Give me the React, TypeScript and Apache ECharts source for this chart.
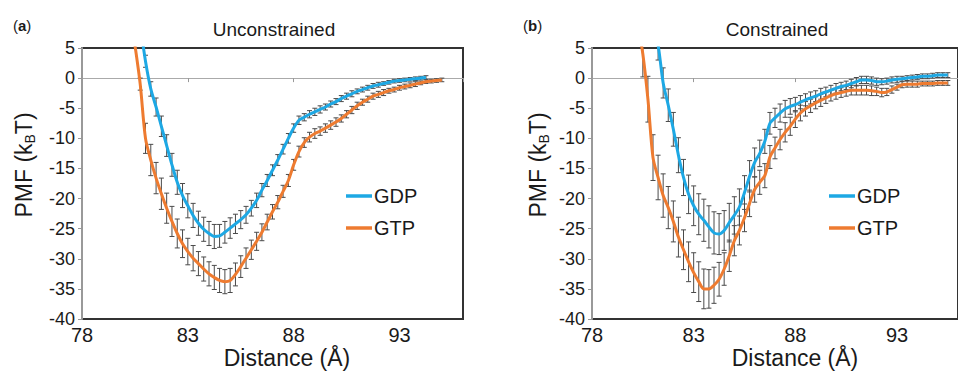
import React, { useEffect, useRef } from 'react';
import * as echarts from 'echarts';

// Distance grid (Å), shared by all series
const DIST = [
  80.25, 80.5, 80.75, 81.0, 81.25, 81.5, 81.75, 82.0, 82.25, 82.5, 82.75, 83.0,
  83.25, 83.5, 83.75, 84.0, 84.25, 84.5, 84.75, 85.0, 85.25, 85.5, 85.75, 86.0,
  86.25, 86.5, 86.75, 87.0, 87.25, 87.5, 87.75, 88.0, 88.25, 88.5, 88.75, 89.0,
  89.25, 89.5, 89.75, 90.0, 90.25, 90.5, 90.75, 91.0, 91.25, 91.5, 91.75, 92.0,
  92.25, 92.5, 92.75, 93.0, 93.25, 93.5, 93.75, 94.0, 94.25, 94.5, 94.75, 95.0,
  95.25, 95.5,
];

// (a) Unconstrained
const A_GDP = [
  null, null, 9.0, 2.8,
  -1.8, -4.8, -8.0, -11.2,
  -14.4, -17.3, -19.5, -21.2,
  -22.8, -24.1, -25.1, -25.8,
  -26.3, -26.2, -25.6, -24.9,
  -24.2, -23.5, -22.7, -21.6,
  -20.3, -18.6, -17.0, -15.3,
  -13.6, -11.8, -10.0, -8.3,
  -7.0, -6.5, -6.0, -5.6,
  -5.2, -4.8, -4.3, -3.9,
  -3.4, -3.0, -2.6, -2.2,
  -1.9, -1.6, -1.3, -1.1,
  -0.9, -0.7, -0.5, -0.4,
  -0.3, -0.2, -0.1, 0.0,
  0.1, null, null, null,
  null, null,
];
const A_GDP_ERR = [
  null, null, 1.0, 1.0,
  1.2, 1.5, 1.7, 1.8,
  1.9, 2.0, 2.0, 2.0,
  2.0, 2.0, 2.0, 2.0,
  2.0, 1.9, 1.8, 1.7,
  1.6, 1.5, 1.4, 1.3,
  1.2, 1.1, 1.0, 0.9,
  0.9, 0.8, 0.8, 0.7,
  0.7, 0.6, 0.6, 0.6,
  0.6, 0.5, 0.5, 0.5,
  0.5, 0.5, 0.5, 0.4,
  0.4, 0.4, 0.4, 0.4,
  0.3, 0.3, 0.3, 0.3,
  0.3, 0.3, 0.3, 0.3,
  0.3, null, null, null,
  null, null,
];
const A_GTP = [
  null, 5.5, -1.0, -10.0,
  -13.6, -16.6, -19.2, -21.6,
  -23.8, -25.8, -27.5, -28.8,
  -29.9, -30.8, -31.7, -32.5,
  -33.1, -33.6, -33.8, -33.6,
  -32.6, -31.3, -29.9, -28.5,
  -27.1, -25.6, -23.9, -22.2,
  -20.6, -18.8, -17.0, -14.4,
  -12.2, -10.7, -9.8, -9.2,
  -8.8, -8.3, -7.8, -7.3,
  -6.7, -6.0, -5.3, -4.6,
  -4.0, -3.5, -3.0, -2.7,
  -2.4, -2.1, -1.9, -1.6,
  -1.4, -1.2, -1.0, -0.8,
  -0.6, -0.5, -0.4, -0.3,
  null, null,
];
const A_GTP_ERR = [
  null, 0, 1.0, 2.5,
  2.6, 2.6, 2.6, 2.5,
  2.5, 2.4, 2.3, 2.2,
  2.1, 2.0, 2.0, 2.0,
  2.0, 2.0, 2.0, 2.0,
  1.9, 1.8, 1.7, 1.6,
  1.5, 1.4, 1.3, 1.2,
  1.1, 1.0, 1.0, 0.9,
  0.9, 0.8, 0.8, 0.8,
  0.7, 0.7, 0.7, 0.7,
  0.6, 0.6, 0.6, 0.6,
  0.5, 0.5, 0.5, 0.5,
  0.5, 0.4, 0.4, 0.4,
  0.4, 0.4, 0.4, 0.3,
  0.3, 0.3, 0.3, 0.3,
  null, null,
];

// (b) Constrained
const B_GDP = [
  null, null, null, 9.0,
  5.5, -0.8, -4.5, -8.5,
  -12.8, -16.5, -19.3, -21.2,
  -22.6, -23.6, -24.7, -25.7,
  -25.9, -25.3, -24.0, -22.8,
  -21.4, -19.0, -16.3, -14.0,
  -12.5, -10.5, -7.5, -6.6,
  -5.8, -5.1, -4.7, -4.4,
  -4.0, -3.6, -3.3, -3.0,
  -2.6, -2.3, -2.0, -1.7,
  -1.4, -1.2, -0.9, -0.6,
  -0.3, -0.3, -0.4, -0.6,
  -0.6, -0.5, -0.3, -0.2,
  -0.1, 0.0, 0.1, 0.2,
  0.3, 0.3, 0.4, 0.5,
  0.5, 0.5,
];
const B_GDP_ERR = [
  null, null, null, 2.5,
  2.5, 2.5, 2.7, 2.8,
  2.9, 3.0, 3.2, 3.3,
  3.4, 3.5, 3.5, 3.5,
  3.4, 3.3, 3.2, 3.1,
  3.0, 2.8, 2.6, 2.4,
  2.2, 2.0, 1.8, 1.6,
  1.5, 1.4, 1.3, 1.2,
  1.1, 1.0, 1.0, 0.9,
  0.9, 0.8, 0.8, 0.8,
  0.7, 0.7, 0.7, 0.7,
  0.6, 0.6, 0.6, 0.6,
  0.5, 0.5, 0.5, 0.5,
  0.4, 0.4, 0.4, 0.4,
  0.4, 0.4, 0.4, 0.4,
  0.4, 0.4,
];
const B_GTP = [
  9.0, 4.0, -3.5, -13.2,
  -16.5, -19.5, -21.5, -23.8,
  -26.4, -28.5, -30.5, -32.3,
  -33.8, -35.0, -35.0, -34.4,
  -33.4, -31.7, -29.5, -27.0,
  -25.3, -23.2, -20.8, -18.5,
  -17.3, -16.2, -13.1, -11.6,
  -10.2, -9.0, -8.0, -6.8,
  -5.8, -5.1, -4.6, -4.1,
  -3.7, -3.3, -2.9, -2.6,
  -2.4, -2.2, -2.0, -2.0,
  -2.0, -2.0, -2.1, -2.2,
  -2.4, -2.3, -1.9, -1.5,
  -1.1, -1.0, -1.0, -1.0,
  -0.9, -0.9, -0.9, -0.8,
  -0.8, -0.8,
];
const B_GTP_ERR = [
  3.5, 3.8, 3.8, 3.8,
  3.7, 3.6, 3.5, 3.4,
  3.3, 3.3, 3.3, 3.3,
  3.3, 3.3, 3.2, 3.0,
  2.8, 2.7, 2.6, 2.5,
  2.4, 2.3, 2.2, 2.1,
  2.0, 2.0, 1.9, 1.8,
  1.7, 1.6, 1.5, 1.4,
  1.3, 1.2, 1.1, 1.0,
  1.0, 0.9, 0.9, 0.9,
  0.8, 0.8, 0.8, 0.8,
  0.8, 0.8, 0.8, 0.7,
  0.7, 0.6, 0.6, 0.5,
  0.5, 0.5, 0.5, 0.5,
  0.4, 0.4, 0.4, 0.4,
  0.4, 0.4,
];

const X_MIN = 78;
const X_MAX = 96;
const X_STEP = 5;
const Y_MIN = -40;
const Y_MAX = 5;
const Y_STEP = 5;
const SERIES_NAMES = ['GDP', 'GTP'];
const PANEL_TITLES = ['Unconstrained', 'Constrained'];
const PANEL_TAGS = ['a', 'b'];

const BLUE = '#1DA8E4';
const ORANGE = '#EE7B30';
const FONT = '"Liberation Sans", Arial, sans-serif';
const TXT = '#1a1a1a';

function linePoints(ys: (number | null)[]) {
  const out: number[][] = [];
  ys.forEach((y, i) => {
    if (y != null) out.push([DIST[i], y]);
  });
  return out;
}
function errPoints(ys: (number | null)[], es: (number | null)[]) {
  const out: number[][] = [];
  ys.forEach((y, i) => {
    const e = es[i];
    if (y != null && e != null && e > 0) out.push([DIST[i], y, e]);
  });
  return out;
}

const errRender = (params: any, api: any) => {
  const x = api.value(0);
  const y = api.value(1);
  const e = api.value(2);
  const hi = api.coord([x, y + e]);
  const lo = api.coord([x, y - e]);
  const c = 2.5;
  const style = { stroke: '#4a4a4a', lineWidth: 1, fill: 'none' };
  return {
    type: 'group',
    children: [
      { type: 'line', shape: { x1: hi[0], y1: hi[1], x2: lo[0], y2: lo[1] }, style },
      { type: 'line', shape: { x1: hi[0] - c, y1: hi[1], x2: hi[0] + c, y2: hi[1] }, style },
      { type: 'line', shape: { x1: lo[0] - c, y1: lo[1], x2: lo[0] + c, y2: lo[1] }, style },
    ],
  };
};

function buildOption() {
  const grids = [
    { left: 82, top: 48, width: 381, height: 271 },
    { left: 592, top: 48, width: 380, height: 271 },
  ].map((g) => ({ ...g, show: true, borderColor: '#333', borderWidth: 2, backgroundColor: 'transparent' }));

  const xAxes: any[] = [];
  const yAxes: any[] = [];
  [0, 1].forEach((gi) => {
    xAxes.push({
      gridIndex: gi,
      type: 'value',
      min: X_MIN,
      max: X_MAX,
      interval: X_STEP,
      position: 'bottom',
      axisLine: { show: false, onZero: false },
      axisTick: { show: false },
      splitLine: { show: false },
      axisLabel: {
        show: true,
        fontSize: 20,
        fontFamily: FONT,
        color: TXT,
        margin: 6,
        showMaxLabel: false,
        formatter: (v: number) => (v === X_MAX ? '' : String(v)),
      },
    });
    xAxes.push({
      gridIndex: gi,
      type: 'value',
      min: X_MIN,
      max: X_MAX,
      interval: X_STEP,
      position: 'top',
      axisLine: { show: true, onZero: true, lineStyle: { color: '#aaa', width: 1 } },
      axisTick: { show: true, inside: true, length: 4, lineStyle: { color: '#999', width: 1 } },
      axisLabel: { show: false },
      splitLine: { show: false },
    });
    yAxes.push({
      gridIndex: gi,
      type: 'value',
      min: Y_MIN,
      max: Y_MAX,
      interval: Y_STEP,
      axisLine: { show: true, onZero: false, lineStyle: { color: '#999', width: 2 } },
      axisTick: { show: true, length: 4, lineStyle: { color: '#999', width: 1 } },
      splitLine: { show: false },
      axisLabel: { fontSize: 18, fontFamily: FONT, color: TXT, margin: 7 },
    });
  });

  const panels = [
    { gdp: A_GDP, gdpErr: A_GDP_ERR, gtp: A_GTP, gtpErr: A_GTP_ERR },
    { gdp: B_GDP, gdpErr: B_GDP_ERR, gtp: B_GTP, gtpErr: B_GTP_ERR },
  ];
  const series: any[] = [];
  panels.forEach((p, gi) => {
    const xi = gi * 2;
    const yi = gi;
    [
      { ys: p.gdp, es: p.gdpErr },
      { ys: p.gtp, es: p.gtpErr },
    ].forEach((s, k) => {
      series.push({
        type: 'custom',
        name: SERIES_NAMES[k] + ' err',
        xAxisIndex: xi,
        yAxisIndex: yi,
        renderItem: errRender,
        data: errPoints(s.ys, s.es),
        encode: { x: 0, y: 1 },
        clip: true,
        z: 2,
        silent: true,
      });
    });
    [
      { ys: p.gdp, color: BLUE },
      { ys: p.gtp, color: ORANGE },
    ].forEach((s, k) => {
      series.push({
        type: 'line',
        name: SERIES_NAMES[k],
        xAxisIndex: xi,
        yAxisIndex: yi,
        data: linePoints(s.ys),
        showSymbol: false,
        symbol: 'none',
        smooth: 0.3,
        clip: true,
        lineStyle: { color: s.color, width: 3 },
        itemStyle: { color: s.color },
        z: 3,
        silent: true,
      });
    });
  });

  const legendBase = {
    orient: 'vertical',
    icon: 'rect',
    itemWidth: 26,
    itemHeight: 3.5,
    itemGap: 12,
    padding: 0,
    data: SERIES_NAMES,
    selectedMode: false,
    textStyle: { fontSize: 20, fontFamily: FONT, color: TXT, padding: [0, 0, 0, -3] },
  };
  const legend = [
    { ...legendBase, left: 346, top: 186 },
    { ...legendBase, left: 829, top: 186 },
  ];

  const tagX = [13, 523];
  const titleX = [274, 777];
  const xNameX = [287, 795];
  const yNameX = [24, 538];
  const graphic: any[] = [];
  [0, 1].forEach((i) => {
    graphic.push({
      type: 'text',
      left: tagX[i],
      top: 18,
      style: {
        text: '{p|(}{b|' + PANEL_TAGS[i] + '}{p|)}',
        rich: {
          p: { fontSize: 15, fontFamily: FONT, fill: TXT },
          b: { fontSize: 15, fontFamily: FONT, fontWeight: 'bold', fill: TXT },
        },
      },
    });
    graphic.push({
      type: 'text',
      x: titleX[i],
      y: 29,
      style: {
        text: PANEL_TITLES[i],
        fontSize: 19,
        fontFamily: FONT,
        fill: TXT,
        align: 'center',
        verticalAlign: 'middle',
      },
    });
    graphic.push({
      type: 'text',
      x: xNameX[i],
      y: 358,
      style: {
        text: 'Distance (Å)',
        fontSize: 23,
        fontFamily: FONT,
        fill: TXT,
        align: 'center',
        verticalAlign: 'middle',
      },
    });
    graphic.push({
      type: 'text',
      x: yNameX[i],
      y: 165,
      rotation: Math.PI / 2,
      style: {
        text: '{m|PMF (k}{s|B}{m|T)}',
        align: 'center',
        verticalAlign: 'middle',
        rich: {
          m: { fontSize: 23, fontFamily: FONT, fill: TXT },
          s: { fontSize: 14, fontFamily: FONT, fill: TXT, padding: [12, 0, 0, 0] },
        },
      },
    });
  });

  return {
    animation: false,
    backgroundColor: '#ffffff',
    grid: grids,
    xAxis: xAxes,
    yAxis: yAxes,
    legend,
    series,
    graphic,
    tooltip: { show: false },
  };
}

export default function App() {
  const ref = useRef<HTMLDivElement>(null);
  useEffect(() => {
    if (!ref.current) return;
    const chart = echarts.init(ref.current, null, { renderer: 'svg' });
    chart.setOption(buildOption() as any);
    return () => chart.dispose();
  }, []);
  return (
    <div
      ref={ref}
      style={{ position: 'absolute', left: 0, top: 0, width: 958, height: 371, background: '#fff' }}
    />
  );
}
